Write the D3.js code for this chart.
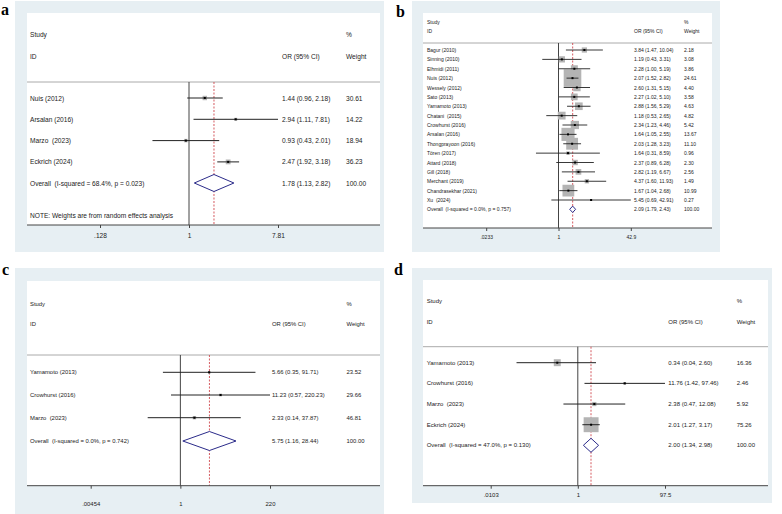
<!DOCTYPE html>
<html>
<head>
<meta charset="utf-8">
<script src="https://cdn.jsdelivr.net/npm/d3@7"></script>
<style>
  body { margin: 0; background: #fff; }
  svg text { font-family: "Liberation Sans", Arial, sans-serif; fill: #222; white-space: pre; }
  .letter { font-family: "Liberation Serif", "DejaVu Serif", serif; font-weight: bold; fill: #000; }
</style>
</head>
<body>
<svg id="chart" width="782" height="514"></svg>
<script>
// ---- panel a: data ----
var aStudies = ["Nuis (2012)", "Arsalan (2016)", "Marzo  (2023)", "Eckrich (2024)"];
var aOR = [1.44, 2.94, 0.93, 2.47];
var aLo = [0.96, 1.11, 0.43, 1.92];
var aHi = [2.18, 7.81, 2.01, 3.18];
var aWeight = [30.61, 14.22, 18.94, 36.23];
var aOverall = [1.78, 1.13, 2.82];
var aHet = "Overall  (I-squared = 68.4%, p = 0.023)";
var aTicks = [0.128, 1, 7.81];
var aTickLabels = [".128", "1", "7.81"];

// ---- panel b ----
var bStudies = ["Bagur (2010)", "Sinning (2010)", "Elhmidi (2011)", "Nuis (2012)", "Wessely (2012)",
  "Sato (2013)", "Yamamoto (2013)", "Chatani  (2015)", "Crowhurst (2016)", "Arsalan (2016)",
  "Thongprayoon (2016)", "Tören (2017)", "Attard (2018)", "Gill (2018)", "Merchant (2019)",
  "Chandrasekhar (2021)", "Xu  (2024)"];
var bOR = [3.84, 1.19, 2.28, 2.07, 2.60, 2.27, 2.88, 1.18, 2.34, 1.64, 2.03, 1.64, 2.37, 2.82, 4.37, 1.67, 5.45];
var bLo = [1.47, 0.43, 1.00, 1.52, 1.31, 1.02, 1.56, 0.53, 1.23, 1.05, 1.28, 0.31, 0.89, 1.19, 1.60, 1.04, 0.69];
var bHi = [10.04, 3.31, 5.19, 2.82, 5.15, 5.10, 5.29, 2.65, 4.46, 2.55, 3.23, 8.59, 6.28, 6.67, 11.93, 2.68, 42.91];
var bWeight = [2.18, 3.08, 3.86, 24.61, 4.40, 3.58, 4.63, 4.82, 5.42, 13.67, 11.10, 0.96, 2.30, 2.56, 1.49, 10.99, 0.27];
var bOverall = [2.09, 1.79, 2.43];
var bHet = "Overall  (I-squared = 0.0%, p = 0.757)";
var bTicks = [0.0233, 1, 42.9];
var bTickLabels = [".0233", "1", "42.9"];

// ---- panel c ----
var cStudies = ["Yamamoto (2013)", "Crowhurst (2016)", "Marzo  (2023)"];
var cOR = [5.66, 11.23, 2.33];
var cLo = [0.35, 0.57, 0.14];
var cHi = [91.71, 220.23, 37.87];
var cWeight = [23.52, 29.66, 46.81];
var cOverall = [5.75, 1.16, 28.44];
var cHet = "Overall  (I-squared = 0.0%, p = 0.742)";
var cTicks = [0.00454, 1, 220];
var cTickLabels = [".00454", "1", "220"];

// ---- panel d ----
var dStudies = ["Yamamoto (2013)", "Crowhurst (2016)", "Marzo  (2023)", "Eckrich (2024)"];
var dOR = [0.34, 11.76, 2.38, 2.01];
var dLo = [0.04, 1.42, 0.47, 1.27];
var dHi = [2.60, 97.46, 12.08, 3.17];
var dWeight = [16.36, 2.46, 5.92, 75.26];
var dOverall = [2.00, 1.34, 2.98];
var dHet = "Overall  (I-squared = 47.0%, p = 0.130)";
var dTicks = [0.0103, 1, 97.5];
var dTickLabels = [".0103", "1", "97.5"];

var svg = d3.select("#chart");

function fmt(v) { return v.toFixed(2); }

function forest(p) {
  var g = svg.append("g");
  var L = p.layout;

  // backgrounds
  g.append("rect").attr("x", L.outer[0]).attr("y", L.outer[1])
    .attr("width", L.outer[2] - L.outer[0]).attr("height", L.outer[3] - L.outer[1])
    .attr("fill", "#e7eff3");
  g.append("rect").attr("x", L.inner[0]).attr("y", L.inner[1])
    .attr("width", L.inner[2] - L.inner[0]).attr("height", L.inner[3] - L.inner[1])
    .attr("fill", "#fff");

  g.append("text").attr("class", "letter").attr("x", L.letter[0]).attr("y", L.letter[1])
    .attr("font-size", 16).text(p.letter);

  var x = d3.scaleLog().domain([p.ticks[0], p.ticks[2]]).range(L.tickX);
  var n = p.studies.length;
  var y = function(i) { return L.rowY + i * L.rowStep; };
  var fs = L.font;

  // header
  var head = g.append("g").attr("font-size", fs).attr("dominant-baseline", "central");
  head.append("text").attr("x", L.colX[0]).attr("y", L.headY[0]).text("Study");
  head.append("text").attr("x", L.colX[2]).attr("y", L.headY[0]).text("%");
  head.append("text").attr("x", L.colX[0]).attr("y", L.headY[1]).text("ID");
  head.append("text").attr("x", L.colX[1]).attr("y", L.headY[1]).text("OR (95% CI)");
  head.append("text").attr("x", L.colX[2]).attr("y", L.headY[1]).text("Weight");

  g.append("line").attr("x1", L.inner[0]).attr("x2", L.inner[2])
    .attr("y1", L.sepY).attr("y2", L.sepY).attr("stroke", "#aaa").attr("stroke-width", 1);

  // null line and overall line
  g.append("line").attr("x1", x(1)).attr("x2", x(1)).attr("y1", L.sepY).attr("y2", L.inner[3])
    .attr("stroke", "#444").attr("stroke-width", 1);
  g.append("line").attr("x1", x(p.overall[0])).attr("x2", x(p.overall[0]))
    .attr("y1", L.sepY).attr("y2", L.inner[3])
    .attr("stroke", "#d0484f").attr("stroke-width", 0.9).attr("stroke-dasharray", "2,1.5");

  var idx = d3.range(n);
  // weight boxes
  g.selectAll(".box").data(idx).enter().append("rect")
    .attr("x", function(i) { return x(p.or[i]) - L.boxK * Math.sqrt(p.weight[i]) / 2; })
    .attr("y", function(i) { return y(i) - L.boxK * Math.sqrt(p.weight[i]) / 2; })
    .attr("width", function(i) { return L.boxK * Math.sqrt(p.weight[i]); })
    .attr("height", function(i) { return L.boxK * Math.sqrt(p.weight[i]); })
    .attr("fill", "#b4b4b4");
  // CIs
  g.selectAll(".ci").data(idx).enter().append("line")
    .attr("x1", function(i) { return x(p.lo[i]); })
    .attr("x2", function(i) { return x(p.hi[i]); })
    .attr("y1", y).attr("y2", y)
    .attr("stroke", "#222").attr("stroke-width", L.ciW);
  g.selectAll(".pt").data(idx).enter().append("rect")
    .attr("x", function(i) { return x(p.or[i]) - 1; })
    .attr("y", function(i) { return y(i) - 1; })
    .attr("width", 2).attr("height", 2).attr("fill", "#000");

  // diamond
  var oy = L.overallY, h = L.diaH;
  g.append("path")
    .attr("d", "M" + x(p.overall[1]) + "," + oy + "L" + x(p.overall[0]) + "," + (oy - h) +
      "L" + x(p.overall[2]) + "," + oy + "L" + x(p.overall[0]) + "," + (oy + h) + "Z")
    .attr("fill", "#fff").attr("stroke", "#2b2b8a").attr("stroke-width", 1);

  // row texts
  var rows = g.append("g").attr("font-size", fs).attr("dominant-baseline", "central");
  idx.forEach(function(i) {
    rows.append("text").attr("x", L.colX[0]).attr("y", y(i)).text(p.studies[i]);
    rows.append("text").attr("x", L.colX[1]).attr("y", y(i))
      .text(fmt(p.or[i]) + " (" + fmt(p.lo[i]) + ", " + fmt(p.hi[i]) + ")");
    rows.append("text").attr("x", L.colX[2]).attr("y", y(i)).text(fmt(p.weight[i]));
  });
  rows.append("text").attr("x", L.colX[0]).attr("y", oy).text(p.het);
  rows.append("text").attr("x", L.colX[1]).attr("y", oy)
    .text(fmt(p.overall[0]) + " (" + fmt(p.overall[1]) + ", " + fmt(p.overall[2]) + ")");
  rows.append("text").attr("x", L.colX[2]).attr("y", oy).text("100.00");
  if (p.note) {
    rows.append("text").attr("x", L.colX[0]).attr("y", L.noteY).text(p.note);
  }

  // axis
  g.append("line").attr("x1", L.inner[0]).attr("x2", L.inner[2])
    .attr("y1", L.inner[3]).attr("y2", L.inner[3]).attr("stroke", "#444").attr("stroke-width", 1);
  var ax = g.append("g").attr("transform", "translate(0," + L.inner[3] + ")")
    .call(d3.axisBottom(x).tickValues(p.ticks).tickSize(3).tickPadding(L.tickPad)
      .tickFormat(function(d, i) { return p.tickLabels[i]; }));
  ax.select(".domain").remove();
  ax.selectAll("line").attr("stroke", "#444");
  ax.selectAll("text").attr("font-size", fs).attr("fill", "#222")
    .attr("font-family", "Liberation Sans, Arial, sans-serif");
}

forest({
  letter: "a", studies: aStudies, or: aOR, lo: aLo, hi: aHi, weight: aWeight,
  overall: aOverall, het: aHet, ticks: aTicks, tickLabels: aTickLabels,
  note: "NOTE: Weights are from random effects analysis",
  layout: { outer: [15, 1, 384, 252], inner: [27, 13, 380, 225], letter: [1, 15], font: 6.6,
    headY: [34, 56], sepY: 82, rowY: 98, rowStep: 21.3, overallY: 183, noteY: 215,
    colX: [30, 282, 346], tickX: [100, 278], boxK: 0.8, diaH: 8.5, ciW: 1, tickPad: 5 }
});

forest({
  letter: "b", studies: bStudies, or: bOR, lo: bLo, hi: bHi, weight: bWeight,
  overall: bOverall, het: bHet, ticks: bTicks, tickLabels: bTickLabels,
  layout: { outer: [412, 1, 720, 252], inner: [423, 13, 712, 228], letter: [396, 17], font: 5,
    headY: [22, 31], sepY: 43, rowY: 50, rowStep: 9.375, overallY: 209.3,
    colX: [427, 634, 684], tickX: [486.2, 630.8], boxK: 3.55, diaH: 3.2, ciW: 0.9, tickPad: 4 }
});

forest({
  letter: "c", studies: cStudies, or: cOR, lo: cLo, hi: cHi, weight: cWeight,
  overall: cOverall, het: cHet, ticks: cTicks, tickLabels: cTickLabels,
  layout: { outer: [15, 268, 384, 514], inner: [27, 281, 380, 485.7], letter: [2, 274.5], font: 5.9,
    headY: [304, 324], sepY: 355, rowY: 372.3, rowStep: 22.7, overallY: 441,
    colX: [30, 272, 346.5], tickX: [90.7, 270], boxK: 0.5, diaH: 9.5, ciW: 1, tickPad: 13 }
});

forest({
  letter: "d", studies: dStudies, or: dOR, lo: dLo, hi: dHi, weight: dWeight,
  overall: dOverall, het: dHet, ticks: dTicks, tickLabels: dTickLabels,
  layout: { outer: [412, 268, 772, 503], inner: [423, 280, 768, 485.7], letter: [394, 275], font: 6,
    headY: [301, 321.7], sepY: 346.7, rowY: 362.7, rowStep: 20.67, overallY: 445.3,
    colX: [426.7, 668.3, 736.7], tickX: [490.7, 665], boxK: 1.72, diaH: 7, ciW: 1, tickPad: 4 }
});
</script>
</body>
</html>
